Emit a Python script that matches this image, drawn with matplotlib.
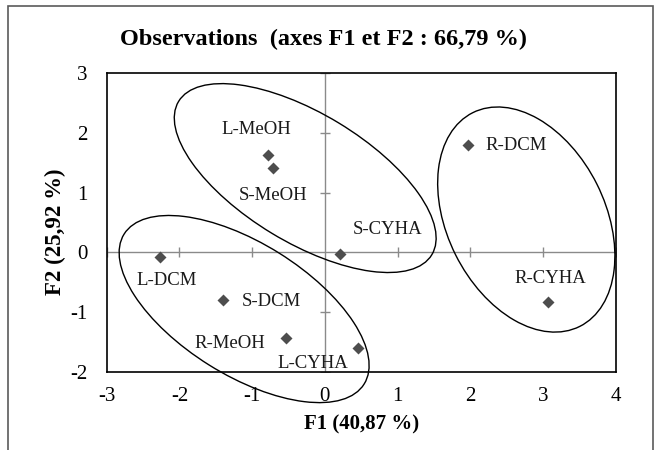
import matplotlib
matplotlib.use("Agg")
import matplotlib.pyplot as plt
from matplotlib.patches import Ellipse, Rectangle
from matplotlib.transforms import ScaledTranslation

plt.rcParams['font.family'] = ['Liberation Serif', 'DejaVu Serif']
plt.rcParams['axes.unicode_minus'] = False

# PCA scores of the extracts on the first two factors
labels = ['L-MeOH', 'S-MeOH', 'R-DCM', 'S-CYHA', 'L-DCM',
          'S-DCM', 'R-MeOH', 'L-CYHA', 'R-CYHA']
f1 = [-0.78, -0.71, 1.97, 0.21, -2.27, -1.40, -0.53, 0.45, 3.07]
f2 = [1.64, 1.42, 1.80, -0.02, -0.07, -0.80, -1.44, -1.61, -0.84]

xticks = [-3, -2, -1, 0, 1, 2, 3, 4]
yticks = [-2, -1, 0, 1, 2, 3]

# label offsets (points) and horizontal alignment for each observation
label_pos = {
    'L-MeOH': (-8.4, 18.2, 'center'),
    'S-MeOH': (0.0, -20.2, 'center'),
    'R-DCM': (12.7, -0.7, 'left'),
    'S-CYHA': (34.2, 17.3, 'center'),
    'L-DCM': (4.8, -17.5, 'center'),
    'S-DCM': (13.2, -0.7, 'left'),
    'R-MeOH': (-15.1, -4.0, 'right'),
    'L-CYHA': (-32.0, -11.0, 'center'),
    'R-CYHA': (1.7, 17.3, 'center'),
}

# groups circled by hand: centre (data), width/height (inches), angle
groups = [
    ((-0.27, 1.245), 2.96, 1.29, -31.2),
    ((-1.11, -0.95), 2.83, 1.32, -32.0),
    ((2.77, 0.55), 2.39, 1.58, -63.4),
]

fig = plt.figure(figsize=(6.61, 4.5), dpi=100)
ax = fig.add_axes([0.1614, 0.174, 0.7701, 0.663])

ax.set_xlim(-3, 4)
ax.set_ylim(-2, 3)
ax.set_xticks(xticks)
ax.set_yticks(yticks)
ax.tick_params(length=0, labelsize=15, colors='black')
ax.tick_params(axis='x', pad=11)
ax.tick_params(axis='y', pad=13.5)
for sp in ax.spines.values():
    sp.set_linewidth(1.2)
    sp.set_color('black')

grey = '#8a8a8a'
ax.axhline(0, color=grey, lw=1.0, zorder=1)
ax.axvline(0, color=grey, lw=1.0, zorder=1)
ax.plot([t for t in xticks if t != 0], [0] * (len(xticks) - 1), '|',
        ms=6.5, mew=1.0, color=grey, zorder=1)
ax.plot([0] * (len(yticks) - 1), [t for t in yticks if t != 0], '_',
        ms=6.5, mew=1.0, color=grey, zorder=1)

ax.plot(f1, f2, 'D', ms=6, color='#4d4d4d', mec='none', zorder=3)

for name, x, y in zip(labels, f1, f2):
    dx, dy, ha = label_pos[name]
    ax.annotate(name, (x, y), xytext=(dx, dy), textcoords='offset points',
                ha=ha, va='center', fontsize=13.5, color='#1a1a1a')

for (cx, cy), w, h, ang in groups:
    tr = fig.dpi_scale_trans + ScaledTranslation(cx, cy, ax.transData)
    ax.add_patch(Ellipse((0, 0), w, h, angle=ang, fill=False, ec='black',
                         lw=1.0, transform=tr, clip_on=False, zorder=2))

fig.text(0.490, 0.912, 'Observations  (axes F1 et F2 : 66,79 %)',
         ha='center', va='center', fontsize=17.5, fontweight='bold')
fig.text(0.547, 0.0556, 'F1 (40,87 %)', ha='center', va='center',
         fontsize=15, fontweight='bold')
fig.text(55 / 661, 1 - 232 / 450, 'F2 (25,92 %)', ha='center', va='center',
         rotation=90, fontsize=16.5, fontweight='bold')

# frame around the whole chart
fig.add_artist(Rectangle((7.5 / 661, -0.05), (653 - 7.5) / 661, 1.05 - 6 / 450,
                         transform=fig.transFigure, fill=False,
                         ec='#5a5a5a', lw=1.2))

fig.savefig('out.png', dpi=100)
